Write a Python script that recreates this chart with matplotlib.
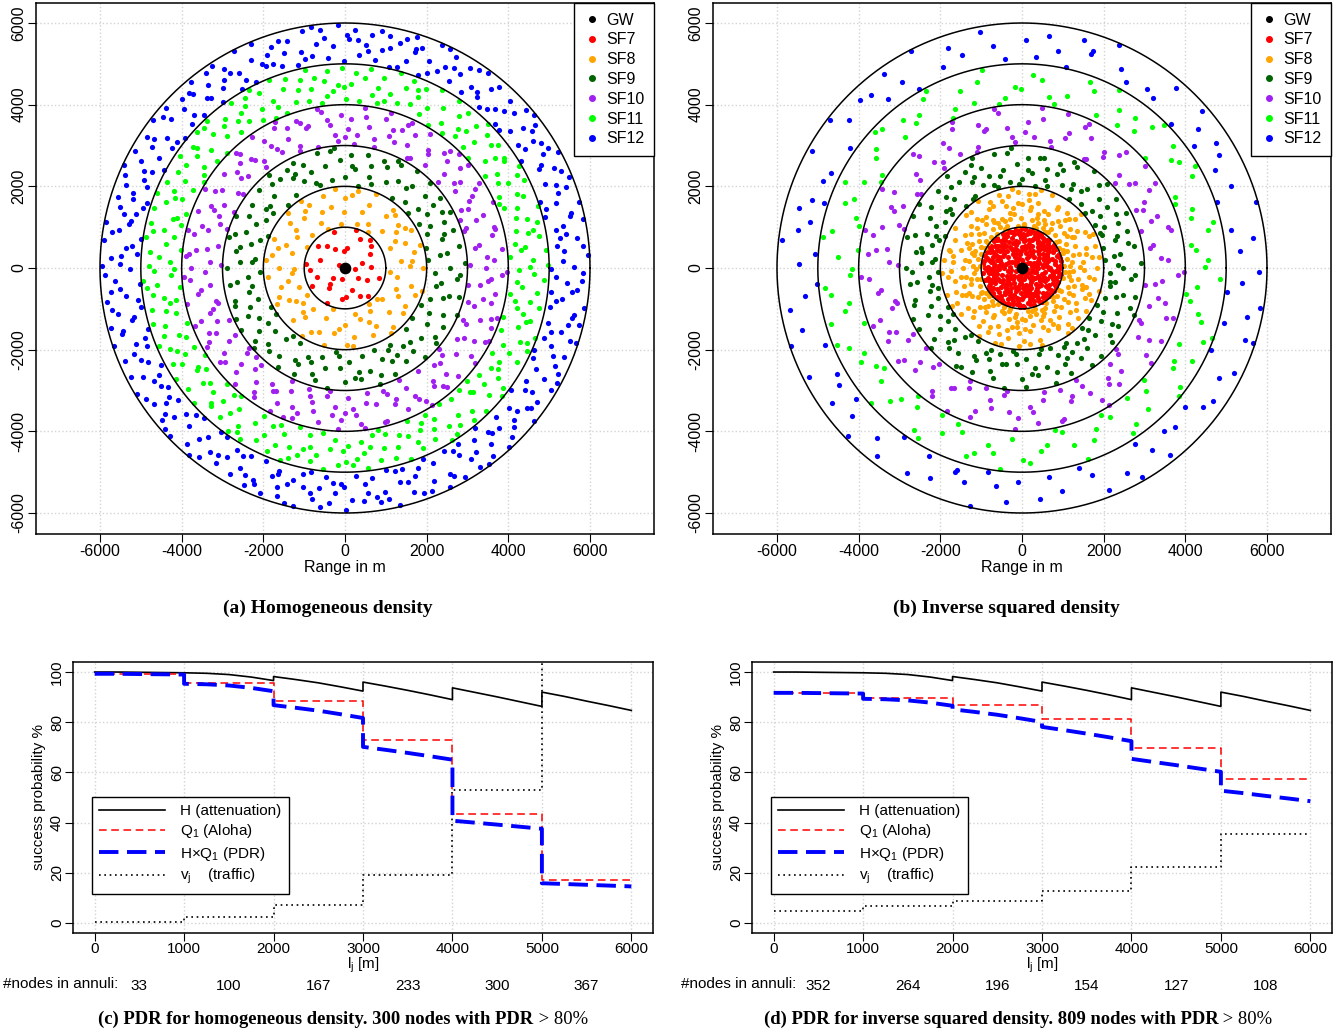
import numpy as np
import matplotlib
matplotlib.use("Agg")
import matplotlib.pyplot as plt
from matplotlib.lines import Line2D
from matplotlib.transforms import blended_transform_factory

plt.rcParams['font.family'] = ['Liberation Sans', 'DejaVu Sans']
plt.rcParams['mathtext.fontset'] = 'custom'
plt.rcParams['mathtext.rm'] = 'Liberation Sans'
plt.rcParams['mathtext.it'] = 'Liberation Sans'
plt.rcParams['mathtext.default'] = 'regular'

# ---- data ----
sf_names = ['SF7', 'SF8', 'SF9', 'SF10', 'SF11', 'SF12']
sf_colors = ['#ff0000', '#ffa500', '#006400', '#a020f0', '#00ff00', '#0000ff']
annulus_edges = [0, 1000, 2000, 3000, 4000, 5000, 6000]

nodes_homog = [33, 100, 167, 233, 300, 367]
nodes_inv = [352, 264, 196, 154, 127, 108]

# attenuation H (%) sampled at 0, 1/4, 1/2, 3/4, 1 of every annulus
h_att = [
    [100.0, 100.0, 99.9, 99.8, 99.7],
    [99.7, 99.5, 99.0, 98.0, 96.6],
    [98.2, 97.0, 95.7, 94.1, 92.4],
    [96.0, 94.4, 92.7, 90.9, 89.0],
    [93.7, 91.9, 90.1, 88.2, 86.3],
    [92.0, 90.3, 88.4, 86.6, 84.7],
]
q1_homog = [99.3, 95.6, 88.4, 73.1, 43.5, 17.2]
vj_homog = [0.5, 2.5, 7.3, 19.3, 52.8, 129.0]
q1_inv = [91.7, 89.6, 86.7, 81.4, 69.8, 57.3]
vj_inv = [4.8, 6.7, 8.7, 12.6, 22.5, 35.5]

W, H = 1341, 1032
fig = plt.figure(figsize=(W / 100, H / 100), dpi=100)


def ax_px(l, t, r, b):
    return fig.add_axes([l / W, 1 - b / H, (r - l) / W, (b - t) / H])


def vdc(n, base):
    # van der Corput sequence value
    q, denom = 0.0, 1.0
    while n > 0:
        denom *= base
        n, rem = divmod(n, base)
        q += rem / denom
    return q


def annulus_points(counts, inverse):
    # counts come from the picture; nodes spread evenly (Halton) over each annulus
    pts = []
    for k, n in enumerate(counts):
        start = 37 + 811 * k
        u = np.array([vdc(start + i, 2) for i in range(n)])
        v = np.array([vdc(start + i, 3) for i in range(n)])
        u = (u + 0.29 * k) % 1.0
        r1, r2 = annulus_edges[k], annulus_edges[k + 1]
        if inverse and k > 0:
            r = r1 * (r2 / r1) ** v
        else:
            r = np.sqrt(r1 ** 2 + v * (r2 ** 2 - r1 ** 2))
        lo = r1 + 40 if k > 0 else 0
        r = np.clip(r, lo, r2 - 40)
        th = 2 * np.pi * u
        pts.append((r * np.cos(th), r * np.sin(th)))
    return pts


def map_panel(ax, counts, inverse):
    ticks = [-6000, -4000, -2000, 0, 2000, 4000, 6000]
    for t in ticks:
        ax.axvline(t, color='#d3d3d3', ls=':', lw=1, zorder=0)
        ax.axhline(t, color='#d3d3d3', ls=':', lw=1, zorder=0)
    pts = annulus_points(counts, inverse)
    for (x, y), c in zip(pts, sf_colors):
        ax.scatter(x, y, s=14, color=c, linewidths=0, zorder=2)
    th = np.linspace(0, 2 * np.pi, 400)
    for r in annulus_edges[1:]:
        ax.plot(r * np.cos(th), r * np.sin(th), color='black', lw=1.1, zorder=3)
    ax.scatter([0], [0], s=55, color='black', zorder=4)
    ax.set_xlim(-7567, 7567)
    ax.set_ylim(-6514, 6490)
    ax.set_xticks(ticks)
    ax.set_yticks(ticks)
    ax.set_xticklabels([str(t) for t in ticks])
    ax.set_yticklabels([str(t) for t in ticks], rotation=90, va='center')
    ax.tick_params(labelsize=11.5, length=6, pad=1)
    ax.set_xlabel('Range in m', fontsize=11.5, labelpad=1)
    handles = [Line2D([], [], ls='', marker='o', ms=4, color='black')]
    handles += [Line2D([], [], ls='', marker='o', ms=4, color=c) for c in sf_colors]
    leg = ax.legend(handles, ['GW'] + sf_names, loc='upper right', borderaxespad=0,
                    fontsize=11.5, handlelength=1.0, handletextpad=0.4,
                    labelspacing=0.3, fancybox=False, framealpha=1,
                    edgecolor='black', borderpad=0.6)
    leg.get_frame().set_linewidth(1)


def pdr_panel(ax, q1, vj, nodes, label_x):
    for t in annulus_edges:
        ax.axvline(t, color='#d3d3d3', ls=':', lw=1, zorder=0)
    for t in range(0, 101, 20):
        ax.axhline(t, color='#d3d3d3', ls=':', lw=1, zorder=0)
    hx, hy, py = [], [], []
    for k in range(6):
        xs = np.linspace(annulus_edges[k], annulus_edges[k + 1], 5)
        hx += list(xs)
        hy += h_att[k]
        py += [h * q1[k] / 100 for h in h_att[k]]
    ax.plot(hx, hy, color='black', lw=1.2, label='H (attenuation)', zorder=3)
    ax.step(annulus_edges, q1 + [q1[-1]], where='post', color='red', lw=1.1,
            dashes=(5, 3), label='Q$_1$ (Aloha)', zorder=4)
    ax.plot(hx, py, color='blue', lw=2.8, dashes=(5, 2.2),
            label='H$\\times$Q$_1$ (PDR)', zorder=5)
    ax.step(annulus_edges, vj + [vj[-1]], where='post', color='black', lw=1.2,
            dashes=(1, 2.2), label='v$_j$    (traffic)', zorder=3)
    ax.set_xlim(-242, 6242)
    ax.set_ylim(-4, 104)
    ax.set_xticks(annulus_edges)
    ax.set_yticks(range(0, 101, 20))
    ax.set_yticklabels([str(t) for t in range(0, 101, 20)], rotation=90, va='center')
    ax.tick_params(labelsize=11, length=6, pad=0.5)
    ax.set_ylabel('success probability %', fontsize=11, labelpad=3)
    ax.set_xlabel('l$_j$ [m]', fontsize=11, labelpad=-0.5)
    leg = ax.legend(loc='lower left', bbox_to_anchor=(0.032, 0.144), borderaxespad=0,
                    fontsize=11, handlelength=4.3, handletextpad=1.0,
                    labelspacing=0.28, fancybox=False, framealpha=1,
                    edgecolor='black', borderpad=0.5)
    leg.get_frame().set_linewidth(1)
    tr = blended_transform_factory(ax.transData, fig.transFigure)
    fig.text(label_x / W, 1 - 984 / H, '#nodes in annuli:', fontsize=11, va='center')
    for k, n in enumerate(nodes):
        ax.text(annulus_edges[k] + 500, 1 - 986 / H, str(n), transform=tr,
                fontsize=11, ha='center', va='center')


ax_a = ax_px(36, 3, 654, 534)
map_panel(ax_a, nodes_homog, False)
ax_b = ax_px(713, 3, 1331, 534)
map_panel(ax_b, nodes_inv, True)

ax_c = ax_px(73, 662, 653, 933)
pdr_panel(ax_c, q1_homog, vj_homog, nodes_homog, 3)
ax_d = ax_px(752, 662, 1332, 933)
pdr_panel(ax_d, q1_inv, vj_inv, nodes_inv, 681)

renderer = fig.canvas.get_renderer()


def caption(xc, yc, bold, rest, size=14):
    t1 = fig.text(0, 1 - yc / H, bold, family=['Liberation Serif', 'DejaVu Serif'],
                  weight='bold', fontsize=size, va='center')
    t2 = fig.text(0, 1 - yc / H, rest, family=['Liberation Serif', 'DejaVu Serif'],
                  fontsize=size, va='center')
    w1 = t1.get_window_extent(renderer).width
    w2 = t2.get_window_extent(renderer).width
    x0 = xc - (w1 + w2) / 2
    t1.set_x(x0 / W)
    t2.set_x((x0 + w1) / W)


caption(328, 608, '(a) Homogeneous density', '')
caption(1006, 608, '(b) Inverse squared density', '')
caption(343, 1019, '(c) PDR for homogeneous density. 300 nodes with PDR', ' > 80%', 13.4)
caption(1018, 1019, '(d) PDR for inverse squared density. 809 nodes with PDR', ' > 80%', 13.4)

for ax in (ax_a, ax_b, ax_c, ax_d):
    for s in ax.spines.values():
        s.set_linewidth(1.1)

fig.savefig('out.png', dpi=100)
